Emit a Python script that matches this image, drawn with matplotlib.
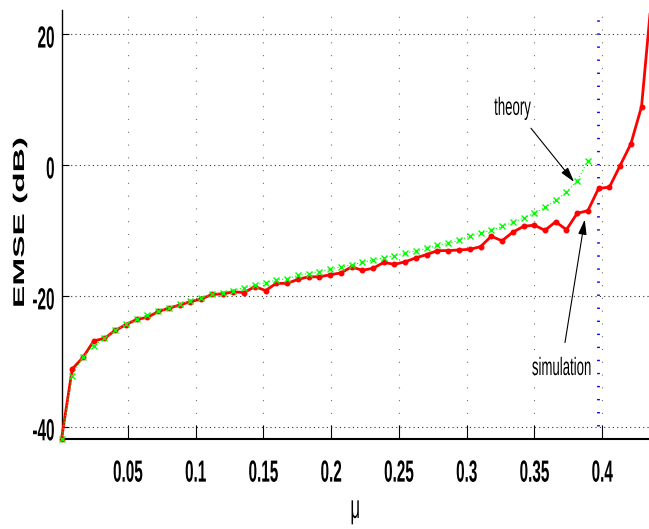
"""EMSE versus step size: simulated learning curve against the theoretical prediction."""
import matplotlib

matplotlib.use("Agg")
import matplotlib.pyplot as plt
from matplotlib.patheffects import AbstractPathEffect
from matplotlib.transforms import Affine2D

# step sizes shared by both curves (theory stops at index 49)
MU = [
    0.0010, 0.0089, 0.0169, 0.0248, 0.0327, 0.0406, 0.0486, 0.0565, 0.0644, 0.0723,
    0.0803, 0.0882, 0.0961, 0.1041, 0.1120, 0.1199, 0.1278, 0.1358, 0.1437, 0.1516,
    0.1595, 0.1675, 0.1754, 0.1833, 0.1912, 0.1992, 0.2071, 0.2150, 0.2230, 0.2309,
    0.2388, 0.2467, 0.2547, 0.2626, 0.2705, 0.2784, 0.2864, 0.2943, 0.3022, 0.3102,
    0.3181, 0.3260, 0.3339, 0.3419, 0.3498, 0.3577, 0.3656, 0.3736, 0.3815, 0.3894,
    0.3973, 0.4053, 0.4132, 0.4211, 0.4290, 0.4370,
]
EMSE_SIM = [
    -41.9, -31.2, -29.4, -26.9, -26.5, -25.3, -24.4, -23.6, -23.3, -22.4,
    -21.9, -21.4, -20.9, -20.5, -19.8, -19.7, -19.4, -19.5, -18.6, -19.2,
    -18.1, -18.1, -17.5, -17.1, -17.1, -16.8, -16.5, -15.6, -16.1, -15.8,
    -14.9, -15.2, -14.8, -14.2, -13.7, -13.1, -13.1, -13.0, -12.9, -12.5,
    -10.9, -11.6, -10.3, -9.4, -9.2, -10.0, -8.7, -9.9, -7.4, -7.0,
    -3.6, -3.4, -0.1, 3.2, 8.9, 27.0,
]
EMSE_THEORY = [
    -41.9, -32.2, -29.3, -27.6, -26.5, -25.3, -24.3, -23.6, -22.9, -22.4,
    -21.9, -21.3, -20.8, -20.4, -19.8, -19.5, -19.2, -18.75, -18.35, -18.0,
    -17.6, -17.4, -16.9, -16.6, -16.3, -15.9, -15.6, -15.3, -14.9, -14.55,
    -14.2, -13.85, -13.5, -13.15, -12.75, -12.3, -12.0, -11.5, -10.9, -10.4,
    -10.0, -9.4, -8.8, -8.1, -7.4, -6.5, -5.4, -4.2, -2.4, 0.6,
]
MU_MAX = 0.3972  # stability bound

XTICKS = [0.05, 0.1, 0.15, 0.2, 0.25, 0.3, 0.35, 0.4]
XTICK_LABELS = ["0.05", "0.1", "0.15", "0.2", "0.25", "0.3", "0.35", "0.4"]
YTICKS = [-40, -20, 0, 20]
YTICK_LABELS = ["-40", "-20", "0", "20"]


class Stretch(AbstractPathEffect):
    """Scale glyph outlines about the text anchor: sx along the text, sy across it."""

    def __init__(self, sx=1.0, sy=1.0, offset=(0, 0)):
        super().__init__(offset)
        self._scale = Affine2D().scale(sx, sy)

    def draw_path(self, renderer, gc, tpath, affine, rgbFace=None):
        tr = self._scale + affine + self._offset_transform(renderer)
        renderer.draw_path(gc, tpath, tr, rgbFace)


plt.rcParams["font.family"] = ["Liberation Sans", "DejaVu Sans"]

W, H = 649, 529
fig = plt.figure(figsize=(W / 100, H / 100), dpi=100)
ax = fig.add_axes([61.5 / W, 90 / H, 587.5 / W, 429 / H])

ax.plot(MU, EMSE_SIM, color="red", lw=2.0, marker=".", ms=6.5,
        clip_on=False, zorder=3)
ax.plot(MU[:len(EMSE_THEORY)], EMSE_THEORY, color=(0, 1, 0), lw=0.8,
        ls=(0, (1, 2)), marker="x", ms=4.5, mew=1.0, clip_on=False, zorder=4)
ax.axvline(MU_MAX, color="blue", lw=2, ls=(0, (0.5, 4.2)), zorder=2)

ax.set_xlim(0.001, 0.4345)
ax.set_ylim(-41.88, 23.66)

ax.spines["top"].set_visible(False)
ax.spines["right"].set_visible(False)
ax.spines["bottom"].set_linewidth(1.5)
ax.spines["left"].set_linewidth(1.0)

ax.set_xticks(XTICKS, XTICK_LABELS)
ax.set_yticks(YTICKS, YTICK_LABELS)
ax.tick_params(axis="x", direction="in", length=10, width=0.8, pad=30.7, labelsize=11)
ax.tick_params(axis="y", direction="in", length=4.8, width=0.8, pad=5, labelsize=11)
for lab in ax.get_xticklabels():
    lab.set_fontweight("bold")
    lab.set_va("baseline")
    lab.set_path_effects([Stretch(sy=2.0)])
for lab in ax.get_yticklabels():
    lab.set_fontweight("bold")
    lab.set_va("baseline")
    lab.set_path_effects([Stretch(sy=2.0, offset=(0, -9.8))])

ax.xaxis.grid(True, color="0.45", lw=0.8, ls=(0, (1, 10.5)))
ax.yaxis.grid(True, color="0.2", lw=0.8, ls=(0, (1, 2.9)))

ax.set_xlabel("μ", fontsize=12, va="baseline", path_effects=[Stretch(sy=2.0)])
ax.xaxis.set_label_coords(0.5, -0.184)
ax.set_ylabel("EMSE (dB)", fontsize=11.2, fontweight="bold", ha="left",
              va="baseline", rotation_mode="anchor",
              path_effects=[Stretch(sx=2.15)])
ax.yaxis.set_label_coords(-0.0638, 0.3054)

arrow = dict(arrowstyle="-|>,head_length=0.6,head_width=0.17", color="k",
             lw=0.8, shrinkA=0, shrinkB=0, mutation_scale=15)
ax.annotate("", xy=(0.3792, -2.6), xytext=(0.3474, 5.6), arrowprops=arrow)
ax.text(0.3338, 7.64, "theory", fontsize=9.5, ha="center", va="baseline",
        path_effects=[Stretch(sy=1.9)])
ax.annotate("", xy=(0.3871, -8.36), xytext=(0.3725, -27.15), arrowprops=arrow)
ax.text(0.3701, -32.1, "simulation", fontsize=9.5, ha="center", va="baseline",
        path_effects=[Stretch(sy=1.9)])

fig.savefig("out.png", dpi=100)
